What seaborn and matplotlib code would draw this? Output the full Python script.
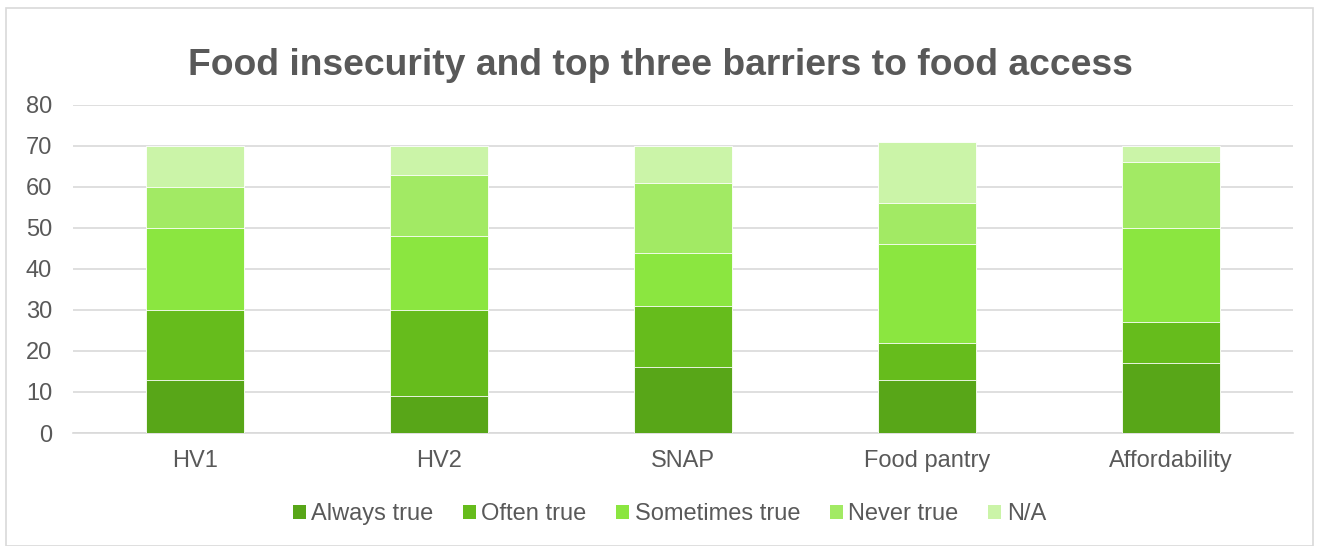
import matplotlib
matplotlib.use("Agg")
import matplotlib.pyplot as plt
import seaborn as sns
import pandas as pd
import numpy as np
from matplotlib.patches import Patch, Rectangle

categories = ["HV1", "HV2", "SNAP", "Food pantry", "Affordability"]
always_true = [13, 9, 16, 13, 17]
often_true = [17, 21, 15, 9, 10]
sometimes_true = [20, 18, 13, 24, 23]
never_true = [10, 15, 17, 10, 16]
na = [10, 7, 9, 15, 4]
series_names = ["Always true", "Often true", "Sometimes true", "Never true", "N/A"]
series_values = [always_true, often_true, sometimes_true, never_true, na]
colors = ["#58A618", "#66BC1C", "#8BE640", "#A2EA64", "#CBF4A8"]

sns.set_theme(style="white")
plt.rcParams["font.family"] = ["Liberation Sans", "DejaVu Sans"]

fig = plt.figure(figsize=(13.2, 5.46), dpi=100)
ax = fig.add_axes([73/1320, 1-433/546, 1220/1320, 328/546])

cum = np.cumsum(np.array(series_values), axis=0)
# draw from top segment down so lower segments overlay
for i in range(len(series_names) - 1, -1, -1):
    df = pd.DataFrame({"cat": categories, "val": cum[i]})
    sns.barplot(data=df, x="cat", y="val", order=categories, color=colors[i],
                width=0.4, saturation=1, ax=ax, edgecolor="white", linewidth=0.6,
                zorder=3)

ax.set_ylim(0, 80)
ax.set_xlim(-0.5, len(categories) - 0.5)
ax.set_yticks(range(0, 81, 10))
ax.yaxis.grid(True, color="#D9D9D9", linewidth=1.2, zorder=0)
ax.set_axisbelow(True)
for s in ["top", "right", "left"]:
    ax.spines[s].set_visible(False)
ax.spines["bottom"].set_color("#D9D9D9")
ax.spines["bottom"].set_linewidth(1.2)
ax.set_xlabel("")
ax.set_ylabel("")
ax.tick_params(axis="both", length=0, labelsize=17, labelcolor="#595959")
ax.tick_params(axis="y", pad=15)
ax.tick_params(axis="x", pad=12)

fig.text(0.5, 1-75/546, "Food insecurity and top three barriers to food access",
         ha="center", va="baseline", fontsize=26.8, fontweight="bold", color="#595959")

handles = [Patch(facecolor=c, edgecolor="none") for c in colors]
fig.legend(handles, series_names, loc="center", bbox_to_anchor=(0.507, 1-514/546),
           ncol=5, frameon=False, fontsize=17, labelcolor="#595959",
           handlelength=0.55, handleheight=0.55, handletextpad=0.22, columnspacing=1.27,
           borderpad=0)

fig.add_artist(Rectangle((6/1320, 0), 1307/1320, 1-8/546, transform=fig.transFigure,
                         fill=False, edgecolor="#D9D9D9", linewidth=1.2))

fig.savefig("out.png", dpi=100)
